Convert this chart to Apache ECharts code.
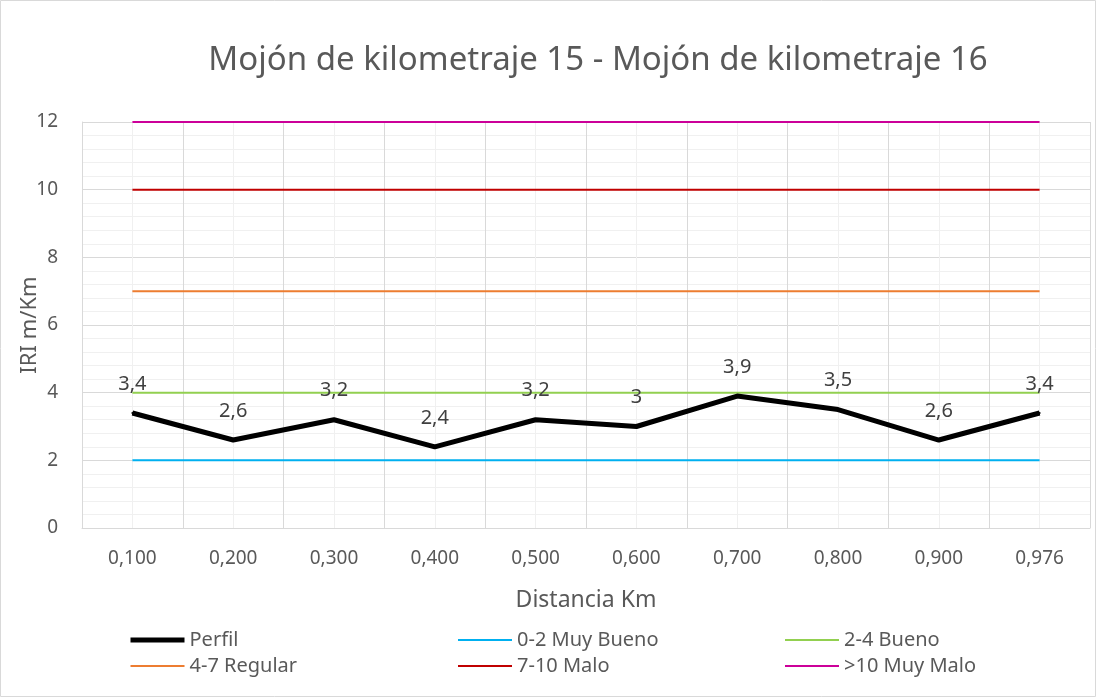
<!DOCTYPE html>
<html>
<head>
<meta charset="utf-8">
<script src="https://cdn.jsdelivr.net/npm/echarts@6/dist/echarts.min.js"></script>
<style>
  html, body { margin: 0; padding: 0; background: #fff; }
  #chart { width: 1096px; height: 697px; }
</style>
</head>
<body>
<div id="chart"></div>
<script>
  // datos
  var distancias = ['0,100', '0,200', '0,300', '0,400', '0,500', '0,600', '0,700', '0,800', '0,900', '0,976'];
  var perfil = [3.4, 2.6, 3.2, 2.4, 3.2, 3, 3.9, 3.5, 2.6, 3.4];
  var muyBueno = [2, 2, 2, 2, 2, 2, 2, 2, 2, 2];
  var bueno = [4, 4, 4, 4, 4, 4, 4, 4, 4, 4];
  var regular = [7, 7, 7, 7, 7, 7, 7, 7, 7, 7];
  var malo = [10, 10, 10, 10, 10, 10, 10, 10, 10, 10];
  var muyMalo = [12, 12, 12, 12, 12, 12, 12, 12, 12, 12];

  var font = 'Noto Sans';
  var gris = '#595959';

  function refLine (name, data, color) {
    return {
      name: name,
      type: 'line',
      data: data,
      symbol: 'none',
      lineStyle: { color: color, width: 2 },
      itemStyle: { color: color },
      z: 2
    };
  }

  var legendBase = {
    orient: 'vertical',
    top: 625,
    itemWidth: 54,
    itemHeight: 14,
    itemGap: 6,
    itemStyle: { opacity: 0 },
    textStyle: { color: gris, fontSize: 20, fontFamily: font },
    selectedMode: false
  };

  var chart = echarts.init(document.getElementById('chart'));
  chart.setOption({
    animation: false,
    title: {
      text: 'Mojón de kilometraje 15 - Mojón de kilometraje 16',
      left: 593,
      top: 39,
      textAlign: 'center',
      textStyle: { color: gris, fontSize: 33, fontWeight: 'normal', fontFamily: font }
    },
    graphic: [{
      type: 'rect',
      shape: { x: 0.5, y: 0.5, width: 1095, height: 696 },
      style: { fill: 'none', stroke: '#d9d9d9', lineWidth: 1 },
      silent: true
    }],
    legend: [
      Object.assign({ left: 123, data: [{ name: 'Perfil', lineStyle: { width: 5 } }, '4-7 Regular'] }, legendBase),
      Object.assign({ left: 452, data: ['0-2 Muy Bueno', '7-10 Malo'] }, legendBase),
      Object.assign({ left: 779, data: ['2-4 Bueno', '>10 Muy Malo'] }, legendBase)
    ],
    grid: { left: 82, right: 6, top: 122, bottom: 169 },
    xAxis: [
      {
        type: 'category',
        data: distancias,
        boundaryGap: true,
        name: 'Distancia Km',
        nameLocation: 'middle',
        nameGap: 61,
        nameMoveOverlap: false,
        nameTextStyle: { color: gris, fontSize: 23, fontFamily: font },
        axisLine: { lineStyle: { color: '#d9d9d9' } },
        axisTick: { show: false },
        axisLabel: { color: gris, fontSize: 19, fontFamily: font, margin: 21 },
        splitLine: { show: false }
      },
      {
        // solo para las lineas de rejilla verticales
        type: 'value',
        min: 0,
        max: 20,
        interval: 1,
        position: 'bottom',
        axisLine: { show: false },
        axisTick: { show: false },
        axisLabel: { show: false },
        splitLine: { show: true, lineStyle: { color: ['#d9d9d9', '#f0f0f0'], width: 1 } }
      }
    ],
    yAxis: {
      type: 'value',
      min: 0,
      max: 12,
      interval: 2,
      name: 'IRI m/Km',
      nameLocation: 'middle',
      nameGap: 41,
      nameMoveOverlap: false,
      nameTextStyle: { color: gris, fontSize: 22, fontFamily: font },
      axisLine: { show: true, lineStyle: { color: '#d9d9d9' } },
      axisTick: { show: false },
      axisLabel: { color: gris, fontSize: 19, fontFamily: font, margin: 24 },
      splitLine: { lineStyle: { color: '#d9d9d9' } },
      minorTick: { show: false, splitNumber: 5 },
      minorSplitLine: { show: true, lineStyle: { color: '#f0f0f0' } }
    },
    series: [
      {
        name: 'Perfil',
        type: 'line',
        data: perfil,
        symbol: 'circle',
        symbolSize: 2,
        showSymbol: true,
        lineStyle: { color: '#000', width: 5 },
        itemStyle: { color: '#000' },
        z: 5,
        label: {
          show: true,
          position: 'top',
          distance: 18,
          color: '#404040',
          fontSize: 20,
          fontFamily: font,
          formatter: function (p) { return String(p.value).replace('.', ','); }
        }
      },
      refLine('0-2 Muy Bueno', muyBueno, '#00b0f0'),
      refLine('2-4 Bueno', bueno, '#92d050'),
      refLine('4-7 Regular', regular, '#ed7d31'),
      refLine('7-10 Malo', malo, '#c00000'),
      refLine('>10 Muy Malo', muyMalo, '#cc0099')
    ]
  });
</script>
</body>
</html>
